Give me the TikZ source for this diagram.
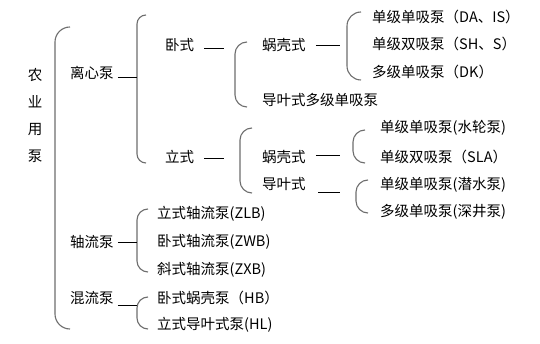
\documentclass[tikz,border=0pt]{standalone}
\usepackage{fontspec}
\usepackage{xcolor,tikz}
\usetikzlibrary{calc}
\setmainfont{Noto Sans CJK SC}
\definecolor{bracegray}{HTML}{6E6E6E}
\tikzset{item/.style={anchor=west,inner sep=0pt,font=\fontsize{14.5}{16}\selectfont},
  bracket/.style={draw=bracegray,line width=1.1pt},
  link/.style={draw=black,line width=0.9pt}}

\begin{document}
\begin{tikzpicture}[x=1pt,y=-1pt]
\useasboundingbox[fill=white] (0,0) rectangle (540,344);
% brackets: name/x/top/bottom/hook
\foreach \name/\bx/\bt/\bb/\bw in {brA/55/27/329/15,brB/137/15/163/9,brC/235/42/107/12,
  brD/347/12/80/14,brE/240/128/193/12,brF/353/130/163/12,brG/356/180/213/12,
  brH/137/209/272/11,brI/137/297/329/11}{
  \draw[bracket,rounded corners=\bw pt] (\bx+\bw,\bt) -- (\bx,\bt) -- (\bx,\bb) -- (\bx+\bw,\bb);
  \coordinate (\name) at (\bx,{(\bt+\bb)/2});
}
\node[item,anchor=center,align=center,font=\fontsize{14.5}{27}\selectfont] (root) at (35,115) {农\\业\\用\\泵};
\node[item] (lixin) at (70,73) {离心泵};
\node[item] (zhouliu) at (70,242) {轴流泵};
\node[item] (hunliu) at (70,298) {混流泵};
\node[item] (wo) at (165,45) {卧式};
\node[item] (li) at (165,157) {立式};
\node[item] (wokeA) at (262,45) {蜗壳式};
\node[item] (daoyeA) at (262,100) {导叶式多级单吸泵};
\node[item] (wokeB) at (262,157) {蜗壳式};
\node[item] (daoyeB) at (262,184) {导叶式};
\foreach \n/\y/\txt in {1/17/单级单吸泵（DA、IS）,2/44/单级双吸泵（SH、S）,3/72/多级单吸泵（DK）}{
  \node[item] (woA\n) at (372,\y) {\txt};}
\foreach \n/\y/\txt in {1/128/单级单吸泵(水轮泵),2/157/单级双吸泵（SLA）,3/185/单级单吸泵(潜水泵),4/212/多级单吸泵(深井泵)}{
  \node[item] (liA\n) at (380,\y) {\txt};}
\foreach \n/\y/\txt in {1/214/立式轴流泵(ZLB),2/242/卧式轴流泵(ZWB),3/270/斜式轴流泵(ZXB),4/298/卧式蜗壳泵（HB）,5/325/立式导叶式泵(HL)}{
  \node[item] (zh\n) at (157,\y) {\txt};}
% links
\draw[link,shorten <=4pt] ([yshift=-4pt]lixin.east) -- ([yshift=-4pt]lixin.east -| brB);
\draw[link,shorten <=4pt] (zhouliu.east) -- (zhouliu.east -| brH);
\draw[link,shorten <=4pt] ([yshift=-7pt]hunliu.east) -- ([yshift=-7pt]hunliu.east -| brI);
\draw[link,shorten <=10pt,shorten >=11pt] ([yshift=-3pt]wo.east) -- ([yshift=-3pt]wo.east -| brC);
\draw[link,shorten <=10pt,shorten >=16pt] ([yshift=-1pt]li.east) -- ([yshift=-1pt]li.east -| brE);
\draw[link,shorten <=10pt,shorten >=7pt] (wokeA.east) -- (wokeA.east -| brD);
\draw[link,shorten <=10pt,shorten >=13pt] ([yshift=2pt]wokeB.east) -- ([yshift=2pt]wokeB.east -| brF);
\draw[link,shorten <=56pt,shorten >=16pt] ([yshift=-8pt]daoyeB.west) -- ([yshift=-8pt]daoyeB.west -| brG);
\end{tikzpicture}
\end{document}
